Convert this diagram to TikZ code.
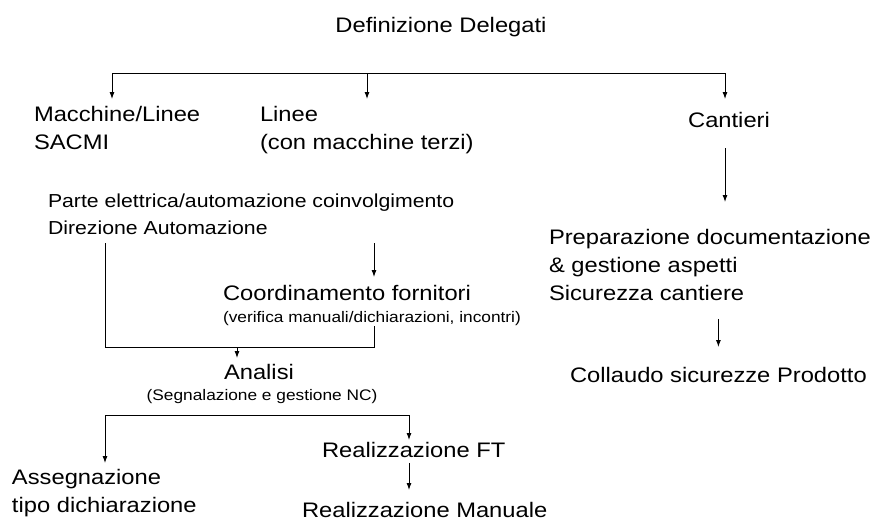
\documentclass[tikz,border=0pt]{standalone}
\usepackage{fontspec}
\setmainfont[FakeStretch=1.13]{Liberation Sans}
\usetikzlibrary{arrows.meta}
\newcommand{\fsmain}{\fontsize{21}{28}\selectfont}
\newcommand{\fsmid}{\fontsize{18.8}{27}\selectfont}
\newcommand{\fssmall}{\fontsize{15.3}{20}\selectfont}

\begin{document}
\begin{tikzpicture}[x=1pt,y=-1pt,>={Latex[length=7pt,width=5pt]},line width=0.9pt,
    lbl/.style={inner sep=0pt,outer sep=0pt,align=left,font=\fsmain},
    lblmid/.style={lbl,font=\fsmid},
    lblsmall/.style={lbl,font=\fssmall}]
            \useasboundingbox (0,0) rectangle (875,522);
            %
            \node (title) at (441,17.5) [lbl,anchor=north] {Definizione Delegati};
            \node (mach) at (34,106.5) [lbl,anchor=north west] {Macchine/Linee\\SACMI};
            \node (linee) at (260,106.5) [lbl,anchor=north west] {Linee\\(con macchine terzi)};
            \node (cant) at (729,112.5) [lbl,anchor=north] {Cantieri};
            \node (parte) at (48,194.3) [lblmid,anchor=north west] {Parte elettrica/automazione coinvolgimento\\Direzione Automazione};
            \node (coord) at (223,285.5) [lbl,anchor=north west] {Coordinamento fornitori};
            \node (coordnote) at (223,311.5) [lblsmall,anchor=north west] {(verifica manuali/dichiarazioni, incontri)};
            \node (analisi) at (224,364.5) [lbl,anchor=north west] {Analisi};
            \node (segn) at (262,389.5) [lblsmall,anchor=north] {(Segnalazione e gestione NC)};
            \node (asseg) at (12,469.5) [lbl,anchor=north west] {Assegnazione\\tipo dichiarazione};
            \node (realft) at (322,442.5) [lbl,anchor=north west] {Realizzazione FT};
            \node (realman) at (302,502.5) [lbl,anchor=north west] {Realizzazione Manuale};
            \node (prep) at (549,229.5) [lbl,anchor=north west] {Preparazione documentazione\\\& gestione aspetti\\Sicurezza cantiere};
            \node (coll) at (570,367.5) [lbl,anchor=north west] {Collaudo sicurezze Prodotto};
            %
            \coordinate (j1) at (112,73);
            \coordinate (j2) at (367,73);
            \coordinate (j3) at (725,73);
            \coordinate (mL) at (105,347);
            \coordinate (mA) at (237,347);
            \coordinate (mR) at (374,347);
            \coordinate (bL) at (105,415);
            \coordinate (bR) at (409,415);
            %
            \draw [color=black,->,shorten >=7.5pt] (j2) -- (j1) -- (j1 |- mach.north);
            \draw [color=black,->,shorten >=7.5pt] (j2) -- (j2 |- linee.north);
            \draw [color=black,->,shorten >=13.5pt] (j2) -- (j3) -- (j3 |- cant.north);
            \draw [color=black,->,shorten <=20.5pt,shorten >=27.5pt] (j3 |- cant.south) -- (j3 |- prep.north);
            \draw [color=black,->,shorten <=18pt,shorten >=20.5pt] (coll.north |- prep.south) -- (coll.north);
            %
            \draw [color=black,shorten <=8pt] (mL |- parte.south) -- (mL) -- (mR) -- (mR |- coordnote.south);
            \draw [color=black,->,shorten <=8pt,shorten >=8.5pt] (mR |- parte.south) -- (mR |- coord.north);
            \draw [color=black,->,shorten >=6.5pt] (mA) -- (mA |- analisi.north);
            %
            \draw [color=black,->,shorten >=6.5pt] (bR) -- (bL) -- (bL |- asseg.north);
            \draw [color=black,->,shorten >=2.5pt] (bL) -- (bR) -- (bR |- realft.north);
            \draw [color=black,->,shorten <=5pt,shorten >=12.5pt] (bR |- realft.south) -- (bR |- realman.north);
            %
\end{tikzpicture}
\end{document}
